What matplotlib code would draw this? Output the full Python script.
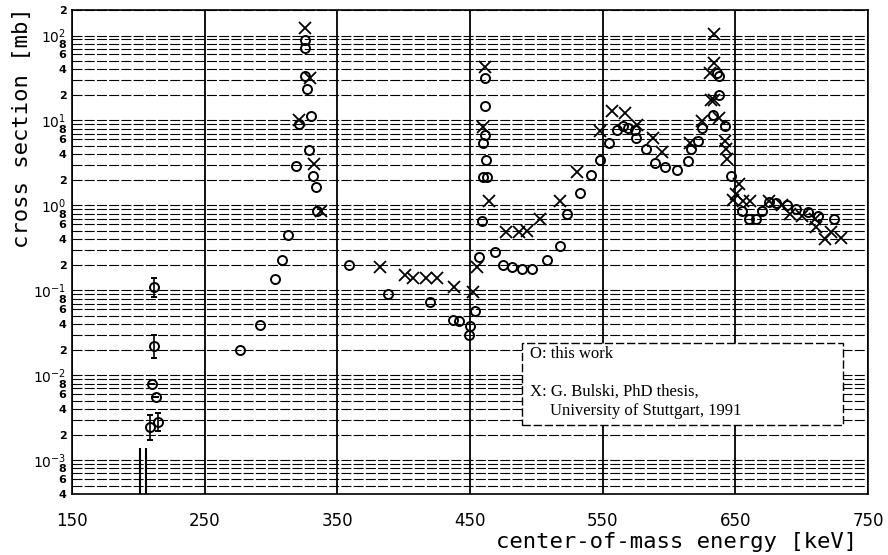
import matplotlib
matplotlib.use("Agg")
import matplotlib.pyplot as plt
from matplotlib.patches import Rectangle
from matplotlib.ticker import LogLocator, FixedLocator, FuncFormatter
import numpy as np

# ---- data (E in keV, cross section in mb) ----
# this work, points without error bars
work_E = [277, 292, 303, 308.6, 313, 318.6, 321, 326, 325.6, 325.6, 327, 330, 329, 332, 334, 335,
          358.6, 388, 420, 437, 442, 449, 450, 454,
          457, 459, 460, 462.5, 462, 460, 461, 461, 461, 469,
          475, 482, 489, 497, 508, 518, 523, 533, 541, 548,
          554.6, 561, 565, 569, 574, 575, 582.7, 589.6, 597, 606, 614.5, 616.7, 622, 625,
          633, 638, 636, 638, 642, 646.5,
          655, 660, 665.6, 670, 675, 681, 689, 696, 705, 712, 724.5]
work_sigma = [0.020, 0.039, 0.135, 0.23, 0.45, 2.9, 9.0, 33, 89, 71, 23.7, 11.2, 4.5, 2.2, 1.66, 0.85,
              0.20, 0.091, 0.073, 0.045, 0.044, 0.030, 0.038, 0.057,
              0.25, 0.66, 2.15, 2.15, 3.4, 5.4, 6.8, 15, 32, 0.28,
              0.20, 0.19, 0.18, 0.18, 0.23, 0.33, 0.79, 1.4, 2.3, 3.4,
              5.4, 7.8, 8.5, 8.1, 7.8, 6.2, 4.6, 3.2, 2.8, 2.6, 3.3, 4.6, 5.7, 8.2,
              11.7, 20, 36, 33, 8.5, 2.2,
              0.86, 0.69, 0.69, 0.86, 1.1, 1.07, 1.0, 0.9, 0.83, 0.76, 0.69]

# this work, low-energy points with error bars
low_E = [211.7, 212, 210, 213, 209, 214.5]
low_sigma = [0.11, 0.022, 7.8e-3, 5.5e-3, 2.45e-3, 2.8e-3]
low_lo = [0.083, 0.016, 7.8e-3, 5.5e-3, 1.75e-3, 2.2e-3]
low_hi = [0.14, 0.030, 7.8e-3, 5.5e-3, 3.4e-3, 3.6e-3]

# upper-limit bars near the bottom
limit_E = [201.5, 206]
limit_top = [1.4e-3, 1.4e-3]

# G. Bulski, PhD thesis
bulski_E = [326, 329.3, 321, 332.6, 338,
            382, 401, 407, 417, 425, 438, 452, 455.6,
            461, 460, 464, 477, 487, 493, 503, 518, 531, 548, 557, 567, 576, 587.7, 595,
            615.7, 625, 632, 634, 631, 633.7, 633.7, 638, 642.5, 643, 643.6, 648, 650.6, 652.6,
            656, 661, 675, 685, 691, 700, 710, 711, 717.6, 722, 730]
bulski_sigma = [122, 31.6, 10.2, 3.1, 0.85,
                0.19, 0.15, 0.14, 0.14, 0.14, 0.11, 0.095, 0.19,
                43, 8.3, 1.13, 0.48, 0.48, 0.50, 0.69, 1.13, 2.5, 7.5, 12.9, 12.3, 8.9, 6.2, 4.2,
                5.4, 9.8, 17.6, 17.6, 36, 47, 105, 10.7, 5.7, 4.6, 3.5, 1.17, 1.35, 1.77,
                1.13, 1.13, 1.13, 1.0, 0.79, 0.76, 0.69, 0.55, 0.40, 0.48, 0.41]

x_ticks = [150, 250, 350, 450, 550, 650, 750]

fig = plt.figure(figsize=(8.88, 5.55), dpi=100)
ax = fig.add_axes([72 / 888, 1 - 494 / 555, 796 / 888, 484 / 555])

ax.set_yscale("log")
ax.set_xlim(150, 750)
ax.set_ylim(4e-4, 2e2)

# grid: dashed horizontal lines at every log step, solid vertical lines
ax.yaxis.set_major_locator(LogLocator(base=10, subs=(1.0,), numticks=20))
ax.yaxis.set_minor_locator(LogLocator(base=10, subs=np.arange(2, 10), numticks=20))
ax.grid(which="both", axis="y", color="black", ls=(0, (9, 2)), lw=0.8, zorder=0)
ax.xaxis.set_major_locator(FixedLocator(x_ticks))
ax.grid(which="major", axis="x", color="black", ls="-", lw=1.3, zorder=0)


def major_fmt(v, pos):
    return r"$10^{%d}$" % int(round(np.log10(v)))


def minor_fmt(v, pos):
    m = v / 10 ** np.floor(np.log10(v) + 1e-9)
    m = int(round(m))
    return str(m) if m in (2, 4, 6, 8) else ""


ax.yaxis.set_major_formatter(FuncFormatter(major_fmt))
ax.yaxis.set_minor_formatter(FuncFormatter(minor_fmt))
ax.tick_params(axis="y", which="major", length=0, pad=4, labelsize=10)
ax.tick_params(axis="y", which="minor", length=0, pad=4, labelsize=8)
ax.tick_params(axis="x", which="both", length=0, pad=13, labelsize=12)
for lab in ax.get_yticklabels(which="both"):
    lab.set_fontweight("bold")

for s in ax.spines.values():
    s.set_linewidth(1.2)
    s.set_color("black")

# data
ax.plot(work_E, work_sigma, ls="none", marker="o", ms=6.5, mfc="none", mec="black", mew=1.4, zorder=3)
low_err = [np.array(low_sigma) - np.array(low_lo), np.array(low_hi) - np.array(low_sigma)]
ax.errorbar(low_E, low_sigma, yerr=low_err, fmt="o", ms=6.5, mfc="none", mec="black", mew=1.4,
            ecolor="black", elinewidth=1.2, capsize=2.5, zorder=3)
ax.vlines(limit_E, 4e-4, limit_top, color="black", lw=1.5, zorder=3)
ax.plot(bulski_E, bulski_sigma, ls="none", marker="x", ms=9, mec="black", mew=1.3, zorder=3)

# legend box
ax.add_patch(Rectangle((0.565, 0.143), 0.404, 0.169, transform=ax.transAxes,
                       facecolor="white", edgecolor="black", ls=(0, (6, 2)), lw=1.0, zorder=4))
serif = ["Liberation Serif", "DejaVu Serif"]
ax.text(0.576, 0.289, "O: this work", transform=ax.transAxes, fontsize=12, family=serif,
        va="center", ha="left", zorder=5)
ax.text(0.576, 0.211, "X: G. Bulski, PhD thesis,", transform=ax.transAxes, fontsize=12, family=serif,
        va="center", ha="left", zorder=5)
ax.text(0.600, 0.171, "University of Stuttgart, 1991", transform=ax.transAxes, fontsize=12, family=serif,
        va="center", ha="left", zorder=5)

# axis titles
fig.text(857 / 888, 1 - 542 / 555, "center-of-mass energy [keV]", ha="right", va="center",
         family="DejaVu Sans Mono", fontsize=16)
fig.text(22 / 888, 1 - 128 / 555, "cross section [mb]", ha="center", va="center", rotation=90,
         family="DejaVu Sans Mono", fontsize=16)

fig.savefig("out.png", dpi=100)
